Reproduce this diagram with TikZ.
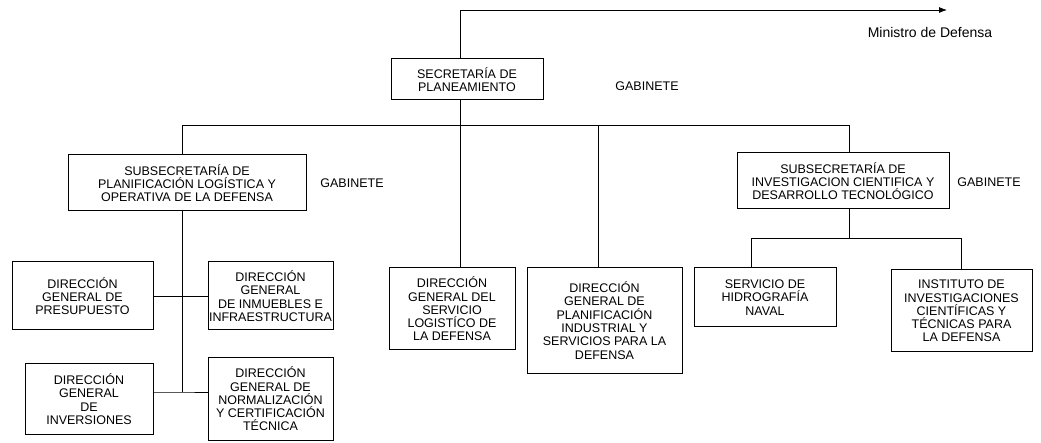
\documentclass[tikz,border=0pt]{standalone}
\usepackage{fontspec}
\setmainfont{Liberation Sans}
\usetikzlibrary{arrows.meta}
\usetikzlibrary{positioning}
\usetikzlibrary{calc}
\tikzset{
	orgBox/.style 2 args={draw=black, line width=1pt, fill=white, align=center,
		inner sep=1pt, minimum width=#1pt, minimum height=#2pt,
		font=\fontsize{12.5}{13.3}\selectfont},
	gabLabel/.style={font=\fontsize{12.5}{14}\selectfont},
	link/.style={draw=black, line width=0.8pt},
}

\begin{document}
\begin{tikzpicture}[x=1pt, y=-1pt,
		toMin/.style={link, -{Latex[length=8pt,width=6pt]}}]
		
		\useasboundingbox (0,0) rectangle (1041,443);
		
		% top level - secretaria
		\node[orgBox={152}{41}] (sec) at (467,79.5) {SECRETARÍA DE\\PLANEAMIENTO};
		\node[gabLabel] (gabSec) at (647,86) {GABINETE};
		\node[font=\fontsize{14}{16}\selectfont] (ministro) at (930,33) {Ministro de Defensa};
		
		% subsecretarias
		\node[orgBox={238}{56}] (subPlan) at (187,183) {SUBSECRETARÍA DE\\PLANIFICACIÓN LOGÍSTICA Y\\OPERATIVA DE LA DEFENSA};
		\node[gabLabel] (gabPlan) at (352,183) {GABINETE};
		\node[orgBox={212}{56}] (subInv) at (843,181) {SUBSECRETARÍA DE\\INVESTIGACION CIENTIFICA Y\\DESARROLLO TECNOLÓGICO};
		\node[gabLabel] (gabInv) at (989,182) {GABINETE};
		
		% direcciones under subPlan
		\node[orgBox={141}{68}] (dgPres) at (82.5,296) {DIRECCIÓN\\GENERAL DE\\PRESUPUESTO};
		\node[orgBox={125}{68}] (dgInm) at (270.5,296) {DIRECCIÓN\\GENERAL\\DE INMUEBLES E\\INFRAESTRUCTURA};
		\node[orgBox={128}{70}] (dgInv) at (89,399) {DIRECCIÓN\\GENERAL\\DE\\INVERSIONES};
		\node[orgBox={125}{82}] (dgNorm) at (270.5,399) {DIRECCIÓN\\GENERAL DE\\NORMALIZACIÓN\\Y CERTIFICACIÓN\\TÉCNICA};
		
		% direcciones directly under sec
		\node[orgBox={126}{82}] (dgLog) at (452,309) {DIRECCIÓN\\GENERAL DEL\\SERVICIO\\LOGISTÍCO DE\\LA DEFENSA};
		\node[orgBox={155}{105}] (dgInd) at (604.5,320.5) {DIRECCIÓN\\GENERAL DE\\PLANIFICACIÓN\\INDUSTRIAL Y\\SERVICIOS PARA LA\\DEFENSA};
		
		% under subInv
		\node[orgBox={142}{59}] (shn) at (765,297.5) {SERVICIO DE\\HIDROGRAFÍA\\NAVAL};
		\node[orgBox={141}{82}] (inst) at (961.5,311) {INSTITUTO DE\\INVESTIGACIONES\\CIENTÍFICAS Y\\TÉCNICAS PARA\\LA DEFENSA};
		
		% bus coordinates
		\coordinate (spine) at (460,125);
		\coordinate (busL) at (182,125);
		\coordinate (busI) at (598,125);
		\coordinate (busR) at (849,125);
		\coordinate (minTip) at (947,10);
		\coordinate (lBot) at (182,392);
		\coordinate (rBus) at (849,238);
		\coordinate (rL) at (751,238);
		\coordinate (rR) at (961,238);
		
		% line to ministro
		\draw[toMin] (spine |- sec.north) |- (minTip);
		
		% main bus
		\draw[link] (spine |- sec.south) -- (spine |- dgLog.north);
		\draw[link] (busL |- subPlan.north) -- (busL) -- (busR) -- (busR |- subInv.north);
		\draw[link] (busI) -- (busI |- dgInd.north);
		
		% left branch
		\draw[link] (busL |- subPlan.south) -- (lBot);
		\draw[link] (dgPres.east) -- (dgInm.west);
		\draw[link] (dgInv.east |- lBot) -- (lBot) -- (dgNorm.west |- lBot);
		
		% right branch
		\draw[link] (rBus |- subInv.south) -- (rBus);
		\draw[link] (rL |- shn.north) -- (rL) -- (rR) -- (rR |- inst.north);
		
\end{tikzpicture}
\end{document}
